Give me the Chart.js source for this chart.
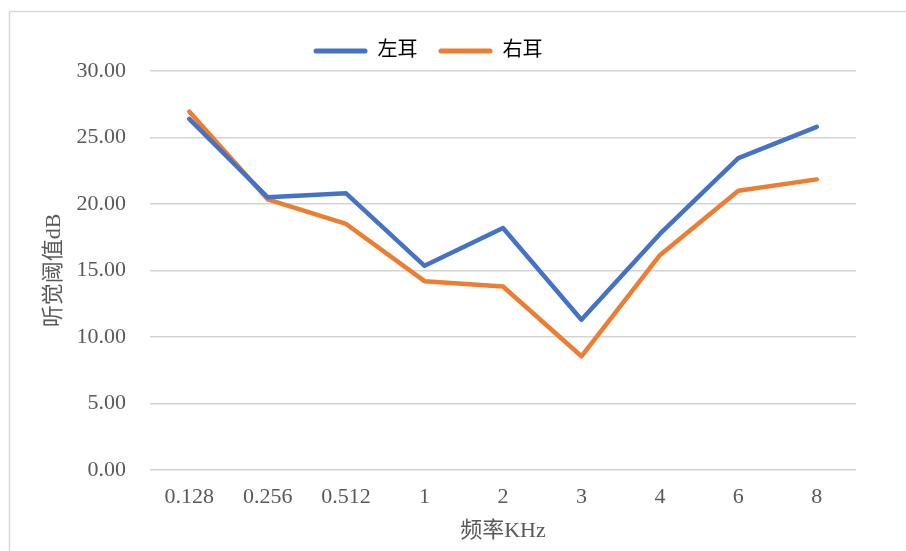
<!DOCTYPE html>
<html>
<head>
<meta charset="utf-8">
<script src="https://cdn.jsdelivr.net/npm/chart.js@4/dist/chart.umd.min.js"></script>
<style>
  html, body { margin: 0; padding: 0; background: #ffffff; }
  #wrap { width: 906px; height: 551px; position: relative; }
</style>
</head>
<body>
<div id="wrap"><canvas id="c"></canvas></div>
<script>
// Hearing threshold (dB) per test frequency, left and right ear
const frequencies = ['0.128', '0.256', '0.512', '1', '2', '3', '4', '6', '8'];
const leftEar  = [26.4, 20.5, 20.8, 15.35, 18.2, 11.3, 17.75, 23.45, 25.8];
const rightEar = [26.95, 20.35, 18.5, 14.2, 13.8, 8.55, 16.15, 21.0, 21.85];
const yTicks = [0, 5, 10, 15, 20, 25, 30];

const serif = "'Liberation Serif', 'Times New Roman', 'Noto Sans CJK SC', serif";
const textColor = '#595959';

// Outer frame and white background
const framePlugin = {
  id: 'frame',
  beforeDraw(chart) {
    const ctx = chart.ctx;
    ctx.save();
    ctx.fillStyle = '#ffffff';
    ctx.fillRect(0, 0, chart.width, chart.height);
    ctx.strokeStyle = '#d9d9d9';
    ctx.lineWidth = 1.5;
    ctx.strokeRect(9.5, 11.5, chart.width + 20, chart.height + 20);
    ctx.restore();
  }
};

new Chart(document.getElementById('c'), {
  type: 'line',
  data: {
    labels: frequencies,
    datasets: [
      {
        label: '左耳',
        data: leftEar,
        borderColor: '#4472C4',
        backgroundColor: '#4472C4',
        borderWidth: 4.5,
        pointRadius: 0,
        tension: 0,
        borderCapStyle: 'round',
        borderJoinStyle: 'round'
      },
      {
        label: '右耳',
        data: rightEar,
        borderColor: '#ED7D31',
        backgroundColor: '#ED7D31',
        borderWidth: 4.5,
        pointRadius: 0,
        tension: 0,
        borderCapStyle: 'round',
        borderJoinStyle: 'round'
      }
    ]
  },
  options: {
    responsive: true,
    maintainAspectRatio: false,
    animation: false,
    devicePixelRatio: 1,
    layout: { padding: { left: 0, right: 50, top: 20, bottom: 0 } },
    plugins: {
      legend: {
        position: 'top',
        align: 'center',
        labels: {
          boxWidth: 54,
          boxHeight: 5,
          padding: 21,
          color: '#000000',
          font: { family: serif, size: 20 },
          useBorderRadius: true,
          borderRadius: 2.5,
          generateLabels(chart) {
            return chart.data.datasets.map((ds, i) => ({
              text: ds.label,
              fillStyle: ds.borderColor,
              strokeStyle: ds.borderColor,
              lineWidth: 0,
              hidden: false,
              datasetIndex: i,
              borderRadius: 2.5
            }));
          }
        }
      },
      tooltip: { enabled: false }
    },
    scales: {
      x: {
        offset: true,
        grid: { display: false },
        border: { display: false },
        ticks: {
          color: textColor,
          font: { family: serif, size: 22 },
          padding: 6,
          maxRotation: 0
        },
        title: {
          display: true,
          text: '频率KHz',
          color: textColor,
          font: { family: serif, size: 22 },
          padding: { top: 4, bottom: 7 }
        },
        afterFit(scale) { scale.height = 81; }
      },
      y: {
        min: 0,
        max: 30,
        afterBuildTicks(scale) { scale.ticks = yTicks.map(v => ({ value: v })); },
        grid: { color: '#d4d4d4', lineWidth: 1.6, drawTicks: false },
        border: { display: false },
        ticks: {
          color: textColor,
          font: { family: serif, size: 22 },
          padding: 24,
          callback: v => Number(v).toFixed(2)
        },
        title: {
          display: true,
          text: '听觉阈值dB',
          color: textColor,
          font: { family: serif, size: 22 },
          padding: { top: 41, bottom: 0 }
        },
        afterFit(scale) { scale.width = 150; }
      }
    }
  },
  plugins: [framePlugin]
});
</script>
</body>
</html>
